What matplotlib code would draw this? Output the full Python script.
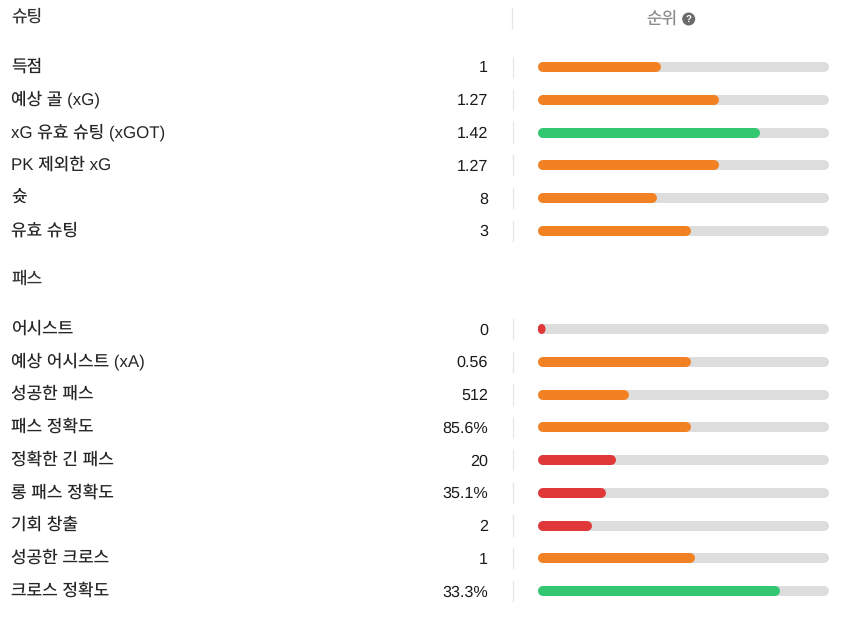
import matplotlib
matplotlib.use("Agg")
import matplotlib.pyplot as plt
from matplotlib.patches import Ellipse
from matplotlib.transforms import blended_transform_factory

plt.rcParams['font.family'] = ['Liberation Sans', 'Noto Sans CJK KR', 'DejaVu Sans']
plt.rcParams['text.hinting'] = 'none'

shoot_title = "슈팅"
pass_title = "패스"
rank_title = "순위"

shoot_labels = ["득점", "예상 골 (xG)", "xG 유효 슈팅 (xGOT)", "PK 제외한 xG", "슛", "유효 슈팅"]
shoot_values = ["1", "1.27", "1.42", "1.27", "8", "3"]
shoot_ranks = [42.3, 62.2, 76.3, 62.2, 41.0, 52.7]

pass_labels = ["어시스트", "예상 어시스트 (xA)", "성공한 패스", "패스 정확도", "정확한 긴 패스",
               "롱 패스 정확도", "기회 창출", "성공한 크로스", "크로스 정확도"]
pass_values = ["0", "0.56", "512", "85.6%", "20", "35.1%", "2", "1", "33.3%"]
pass_ranks = [2.7, 52.7, 31.5, 52.7, 27.0, 23.4, 18.6, 54.0, 83.3]

ORANGE, RED, GREEN = "#f28124", "#e03838", "#33c771"
shoot_colors = [ORANGE, ORANGE, GREEN, ORANGE, ORANGE, ORANGE]
pass_colors = [RED, ORANGE, ORANGE, ORANGE, RED, RED, RED, ORANGE, GREEN]

W, H = 850, 622
PITCH, Y0 = 32.75, 67.0
BAR_L, BAR_R = 537.7, 828.7
PASS_START = 8

fig = plt.figure(figsize=(W / 100, H / 100), dpi=100, facecolor="white")
ax = fig.add_axes([BAR_L / W, 0, (BAR_R - BAR_L) / W, 1])
ax.set_xlim(0, 100)
ax.set_ylim((H - Y0) / PITCH, -Y0 / PITCH)
ax.axis("off")

fx = blended_transform_factory(fig.transFigure, ax.transData)
px = lambda x: x / W
BAR_PX = 10
LW = BAR_PX * 72 / 100
CAP = (BAR_PX / 2) / (BAR_R - BAR_L) * 100
FS_LABEL = 12.2
FS_VALUE = 11.6
LABEL_DY = 4.5 / PITCH
VALUE_DY = 5.5 / PITCH


def row(y, label, value, rank, color):
    ax.text(px(11), y + LABEL_DY, label, transform=fx, fontsize=FS_LABEL, color="#262626",
            ha="left", va="baseline", clip_on=False)
    ax.text(px(488), y + VALUE_DY, value, transform=fx, fontsize=FS_VALUE, color="#1a1a1a",
            ha="right", va="baseline", clip_on=False)
    ax.plot([px(513)] * 2, [y - 0.31, y + 0.31], transform=fx, color="#e6e6e6", lw=0.9, clip_on=False)
    ax.plot([CAP, 100 - CAP], [y, y], color="#dddddd", lw=LW, solid_capstyle="round", zorder=2)
    if rank > 2 * CAP:
        ax.plot([CAP, rank - CAP], [y, y], color=color, lw=LW, solid_capstyle="round", zorder=3)
    else:
        ax.add_patch(Ellipse((rank / 2, y), rank, BAR_PX / PITCH, color=color, lw=0, zorder=3))


for i, (l, v, r, c) in enumerate(zip(shoot_labels, shoot_values, shoot_ranks, shoot_colors)):
    row(i, l, v, r, c)
for i, (l, v, r, c) in enumerate(zip(pass_labels, pass_values, pass_ranks, pass_colors)):
    row(PASS_START + i, l, v, r, c)

to_row = lambda y: (y - Y0) / PITCH
ax.text(px(11), to_row(22), shoot_title, transform=fx, fontsize=FS_LABEL, color="#333333", va="baseline", clip_on=False)
ax.text(px(11), to_row(284), pass_title, transform=fx, fontsize=FS_LABEL, color="#333333", va="baseline", clip_on=False)
ax.plot([px(512)] * 2, [to_row(8), to_row(28)], transform=fx, color="#e6e6e6", lw=0.9, clip_on=False)
ax.text(px(661.5), to_row(24), rank_title, transform=fx, fontsize=FS_LABEL, color="#8c8c8c", ha="center", va="baseline", clip_on=False)

ax.add_patch(Ellipse((px(688.7), to_row(19)), 13 / W, 13 / PITCH, transform=fx, color="#6b6b6b", lw=0, clip_on=False))
ax.text(px(688.7), to_row(19), "?", transform=fx, fontsize=7, fontweight="bold", color="white", ha="center", va="center", clip_on=False)

fig.savefig("out.png", dpi=100, facecolor="white")
